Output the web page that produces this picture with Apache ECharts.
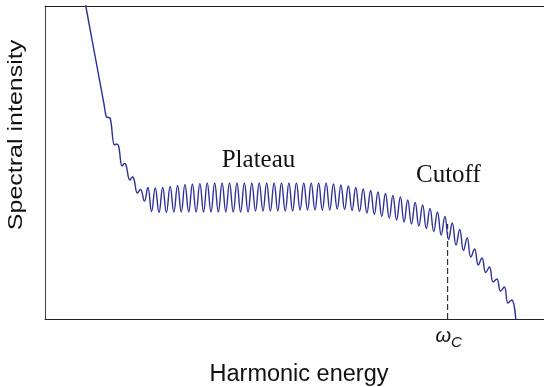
<!DOCTYPE html>
<html>
<head>
<meta charset="utf-8">
<script src="https://cdn.jsdelivr.net/npm/echarts@6/dist/echarts.min.js"></script>
<style>
html,body{margin:0;padding:0;background:#fff;}
#c{width:544px;height:387px;}
</style>
</head>
<body>
<div id="c"></div>
<script>
// Harmonic energy (arbitrary units) and spectral intensity (arbitrary units)
const leadX = [39, 41, 44, 50, 56, 59.5, 61.7, 63.7, 65.7, 70, 72, 74, 77.7, 80, 81.5, 85.5, 88, 89.5, 93, 96, 100];
const leadY = [323, 313, 297, 264.9, 232.8, 214, 202.3, 201.5, 200.5, 174, 175, 173, 153, 155.5, 154, 139, 142, 140, 126, 129.5, 118];

const peakX = [103.5, 110.9, 118.4, 125.9, 133.4, 140.8, 148.3, 155.8, 163.2, 170.7, 178.2, 185.6, 193.1, 200.6, 208.1, 215.5, 223.0, 230.5, 237.9, 245.4, 252.9, 260.3, 267.8, 275.3, 282.8, 290.2, 297.7, 305.2, 312.6, 320.1, 327.6, 335.0, 342.5, 350.0, 357.5, 364.9, 372.4, 379.9, 387.3, 394.8, 402.3, 409.7, 417.2, 424.7, 432.2, 439.6, 447.1, 454.6, 462.1, 469.5];
const peakY = [131.5, 131, 131.5, 132.5, 133.5, 134.5, 135, 135.5,
  136, 136, 136, 136, 136, 136, 136, 136, 136, 136, 136, 136, 136, 136, 136, 136, 136,
  135, 134, 133, 131.5, 130, 128.5, 127, 125.5, 123.5, 122, 119, 116.5, 114, 110.5, 107, 102.5, 96, 89.5, 81, 70, 61, 52, 40, 32, 19];

const troughX = [107.2, 114.7, 122.1, 129.6, 137.1, 144.6, 152.0, 159.5, 167.0, 174.4, 181.9, 189.4, 196.8, 204.3, 211.8, 219.3, 226.7, 234.2, 241.7, 249.1, 256.6, 264.1, 271.6, 279.0, 286.5, 294.0, 301.4, 308.9, 316.4, 323.8, 331.3, 338.8, 346.3, 353.7, 361.2, 368.7, 376.1, 383.6, 391.1, 398.6, 406.0, 413.5, 421.0, 428.4, 435.9, 443.4, 450.9, 458.3, 465.8];
const troughY = [107.5, 106.5, 106.5,
  107, 107, 107, 107, 107, 107, 107, 107, 107, 107, 107,
  108, 108, 108, 108, 108, 108,
  109, 109, 109, 109, 109,
  110, 109.5, 108.5, 107.5, 106, 104.5, 102.5, 101, 99, 97, 95, 93, 90.5, 87.5, 84, 79.5, 74, 68.5, 62, 54, 46.5, 37, 28, 16];

const tailX = [474];
const tailY = [-6];

const cutoffX = 405;          // position of omega_C
const cutoffTop = 95;         // top of the dashed marker

const labels = { x: 'Harmonic energy', y: 'Spectral intensity', plateau: 'Plateau', cutoff: 'Cutoff' };

// assemble the series in x order
const pts = [];
for (let i = 0; i < leadX.length; i++) pts.push([leadX[i], leadY[i]]);
for (let i = 0; i < peakX.length; i++) {
  pts.push([peakX[i], peakY[i]]);
  if (i < troughX.length) pts.push([troughX[i], troughY[i]]);
}
for (let i = 0; i < tailX.length; i++) pts.push([tailX[i], tailY[i]]);

const chart = echarts.init(document.getElementById('c'), null, {renderer: 'canvas'});
const axisLine = {show: true, lineStyle: {color: '#222', width: 1}};
chart.setOption({
  animation: false,
  backgroundColor: '#fff',
  grid: {left: 45, right: -3, top: 6, bottom: 68, containLabel: false},
  xAxis: [
    {type: 'value', min: 0, max: 502, position: 'bottom', axisLine: axisLine, axisTick: {show: false}, axisLabel: {show: false}, splitLine: {show: false}},
    {type: 'value', min: 0, max: 502, position: 'top', axisLine: axisLine, axisTick: {show: false}, axisLabel: {show: false}, splitLine: {show: false}}
  ],
  yAxis: {type: 'value', min: 0, max: 313, axisLine: {show: true, lineStyle: {color: '#444', width: 1}}, axisTick: {show: false}, axisLabel: {show: false}, splitLine: {show: false}},
  series: [
    {type: 'line', data: [[cutoffX, 0], [cutoffX, cutoffTop]], showSymbol: false, lineStyle: {color: '#333', width: 1.2, type: [6, 3]}, z: 1},
    {type: 'line', data: pts, showSymbol: false, smooth: 0.45, clip: true, lineStyle: {color: '#2f2f98', width: 1.4}, z: 2}
  ],
  graphic: [
    {type: 'text', x: 221.7, y: 160, style: {text: labels.plateau, font: '25px "Liberation Serif"', fill: '#111', textAlign: 'left', textVerticalAlign: 'middle'}},
    {type: 'text', x: 416, y: 175, style: {text: labels.cutoff, font: '25px "Liberation Serif"', fill: '#111', textAlign: 'left', textVerticalAlign: 'middle'}},
    {type: 'text', x: 299, y: 375, style: {text: labels.x, font: '23.5px "Liberation Sans"', fill: '#111', textAlign: 'center', textVerticalAlign: 'middle'}},
    {type: 'text', x: 17, y: 135, rotation: Math.PI / 2, scaleY: 0.78, style: {text: labels.y, font: '25px "Liberation Sans"', fill: '#111', textAlign: 'center', textVerticalAlign: 'middle'}},
    {type: 'text', x: 435.6, y: 336.5, style: {text: 'ω', font: 'italic 20px "Liberation Sans"', fill: '#111', textAlign: 'left', textVerticalAlign: 'middle'}},
    {type: 'text', x: 451, y: 343, style: {text: 'C', font: 'italic 15px "Liberation Sans"', fill: '#111', textAlign: 'left', textVerticalAlign: 'middle'}}
  ]
});
</script>
</body>
</html>
